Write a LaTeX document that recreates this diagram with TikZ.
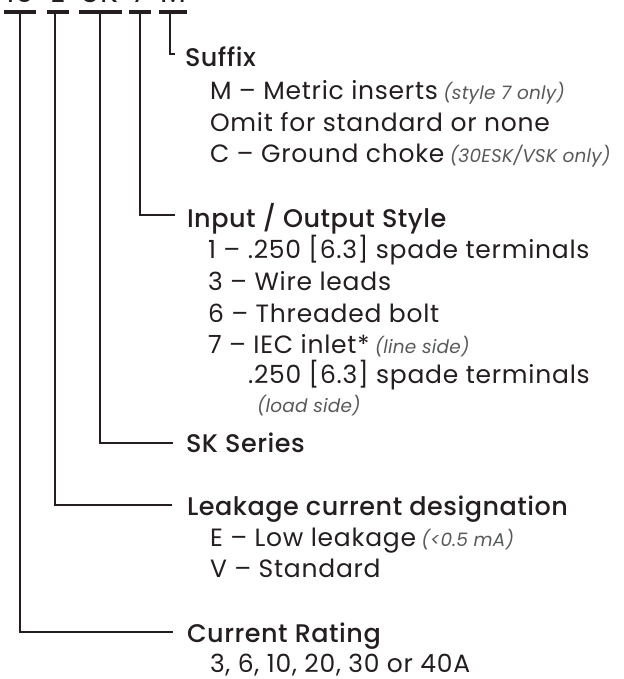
\documentclass[tikz,border=0pt]{standalone}
\usepackage{fontspec}
\setmainfont{Poppins}[LetterSpace=3]
\newfontfamily\headfont{Poppins Medium}[LetterSpace=2]
\newfontfamily\notefont{Poppins}[LetterSpace=1]
\definecolor{ink}{HTML}{231F20}
\definecolor{notegray}{HTML}{58595B}
\newcommand\smallnote[1]{\hspace{-2pt}{\color{notegray}\notefont\itshape\fontsize{18.5}{20}\selectfont #1}}
\begin{document}
\begin{tikzpicture}[x=1pt,y=-1pt,
  rule/.style={line width=2.2pt, draw=ink, line join=miter},
  barline/.style={line width=3.4pt, draw=ink},
  head/.style={anchor=base west, inner sep=0pt, outer sep=0pt, text=ink, font=\headfont\fontsize{25.5}{30}\selectfont},
  item/.style={anchor=base west, inner sep=0pt, outer sep=0pt, text=ink, font=\fontsize{25}{30}\selectfont},
  note/.style={anchor=base west, inner sep=0pt, outer sep=0pt, text=notegray, font=\notefont\itshape\fontsize{18.5}{20}\selectfont},
  hdr/.style={anchor=base, inner sep=0pt, outer sep=0pt, text=ink, font=\fontsize{30}{34}\selectfont}]
\useasboundingbox (0,0) rectangle (623,679);
% clipped header
\node[hdr] (h1) at (20,3) {10};
\node[hdr] (h2) at (58,3) {E};
\node[hdr] (h3) at (100,3) {SK};
\node[hdr] (h4) at (140,3) {7};
\node[hdr] (h5) at (173,3) {M};
% bars
\coordinate (t1) at (20,12);
\coordinate (t2) at (55,12);
\coordinate (t3) at (100,12);
\coordinate (t4) at (140,12);
\coordinate (t5) at (170,12);
\draw[barline] (4,12) -- (36,12);
\draw[barline] (47,12) -- (69,12);
\draw[barline] (79,12) -- (122,12);
\draw[barline] (129,12) -- (151,12);
\draw[barline] (159,12) -- (187,12);
% texts
\node[head] (suf) at (185,67) {Suffix};
\node[item] (suf1) at (210,100) {M – Metric inserts \smallnote{(style 7 only)}};
\node[item] (suf2) at (210,132) {Omit for standard or none};
\node[item] (suf3) at (210,162) {C – Ground choke \smallnote{(30ESK/VSK only)}};
\node[head] (io) at (187,227) {Input / Output Style};
\node[item] (io1) at (208,258) {1 – .250 [6.3] spade terminals};
\node[item] (io3) at (208,290) {3 – Wire leads};
\node[item] (io6) at (208,322) {6 – Threaded bolt};
\node[item] (io7) at (208,353) {7 – IEC inlet* \smallnote{(line side)}};
\node[item] (io7b) at (248,383) {.250 [6.3] spade terminals};
\node[note] (io7c) at (257,412) {(load side)};
\node[head] (sk) at (186,452) {SK Series};
\node[head] (lk) at (187,515) {Leakage current designation};
\node[item] (lkE) at (210,546) {E – Low leakage \smallnote{(<0.5 mA)}};
\node[item] (lkV) at (210,577) {V – Standard};
\node[head] (cr) at (187,642) {Current Rating};
\node[item] (cr1) at (210,672) {3, 6, 10, 20, 30 or 40A};
% connectors
\draw[rule] (t5) |- ([xshift=-10pt,yshift=13pt]suf.base west);
\draw[rule] (t4) |- ([xshift=-12pt,yshift=12pt]io.base west);
\draw[rule] (t3) |- ([xshift=-13pt,yshift=9pt]sk.base west);
\draw[rule] (t2) |- ([xshift=-15pt,yshift=10pt]lk.base west);
\draw[rule] (t1) |- ([xshift=-14pt,yshift=10pt]cr.base west);
\end{tikzpicture}
\end{document}
